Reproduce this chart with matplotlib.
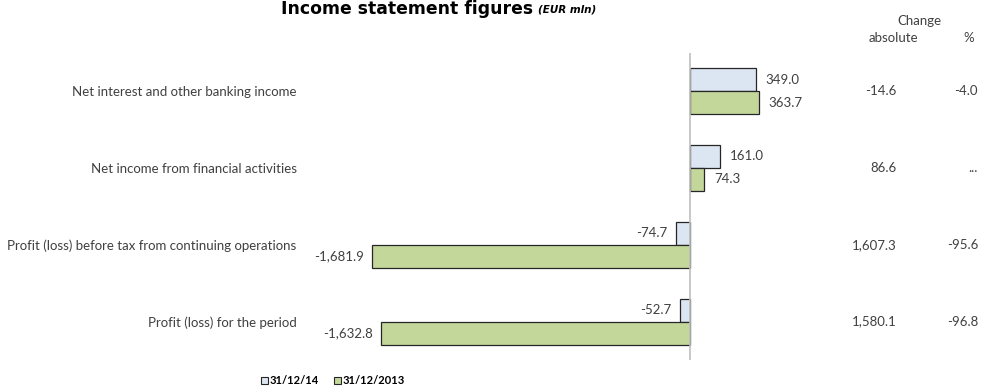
import numpy as np
import matplotlib
matplotlib.use("Agg")
import matplotlib.pyplot as plt
import matplotlib.transforms as mtransforms
from matplotlib.patches import Patch

# dados da tabela (EUR mln)
categorias = [
    "Net interest and other banking income",
    "Net income from financial activities",
    "Profit (loss) before tax from continuing operations",
    "Profit (loss) for the period",
]
valores_2014 = [349.0, 161.0, -74.7, -52.7]
valores_2013 = [363.7, 74.3, -1681.9, -1632.8]
variacao_abs = ["-14.6", "86.6", "1,607.3", "1,580.1"]
variacao_pct = ["-4.0", "...", "-95.6", "-96.8"]
legenda = ["31/12/14", "31/12/2013"]

cor_texto = "#404040"
cor_2014 = "#dce6f2"
cor_2013 = "#c4d79b"
fs = 9.5

plt.rcParams["font.family"] = ["Lato", "DejaVu Sans"]

fig = plt.figure(figsize=(9.83, 3.87), dpi=100)
ax = fig.add_axes([305 / 983, 27 / 387, 525 / 983, 307.3 / 387])

y = np.arange(len(categorias))
h = 0.3
ax.barh(y - h / 2, valores_2014, height=h, color=cor_2014, edgecolor="#262626", linewidth=0.9)
ax.barh(y + h / 2, valores_2013, height=h, color=cor_2013, edgecolor="#262626", linewidth=0.9)

escala = 0.189  # pixels por EUR mln
ax.set_xlim(-385 / escala, 140 / escala)
ax.set_ylim(len(categorias) - 0.5, -0.5)

# rótulos dos valores nas barras
def rotulo(v, yy):
    txt = f"{v:,.1f}"
    if v >= 0:
        ax.annotate(txt, (v, yy), xytext=(7, 0), textcoords="offset points",
                    ha="left", va="center", fontsize=fs, color=cor_texto)
    else:
        ax.annotate(txt, (v, yy), xytext=(-6, 0), textcoords="offset points",
                    ha="right", va="center", fontsize=fs, color=cor_texto)

for i in range(len(categorias)):
    rotulo(valores_2014[i], y[i] - h / 2)
    rotulo(valores_2013[i], y[i] + h / 2)

# eixo vertical no zero
ax.axvline(0, color="#bfbfbf", linewidth=1.2)
for s in ax.spines.values():
    s.set_visible(False)
ax.set_xticks([])
ax.set_yticks(y)
ax.set_yticklabels(categorias, fontsize=fs, color=cor_texto)
ax.tick_params(axis="y", length=0, pad=6)

# colunas de variação à direita
trans = mtransforms.blended_transform_factory(fig.transFigure, ax.transData)
for i in range(len(categorias)):
    ax.text(897 / 983, y[i], variacao_abs[i], transform=trans, ha="right", va="center",
            fontsize=fs, color=cor_texto)
    ax.text(978 / 983, y[i], variacao_pct[i], transform=trans, ha="right", va="center",
            fontsize=fs, color=cor_texto)

fig.text(919 / 983, 1 - 21 / 387, "Change", ha="center", va="center", fontsize=fs, color=cor_texto)
fig.text(893 / 983, 1 - 38 / 387, "absolute", ha="center", va="center", fontsize=fs, color=cor_texto)
fig.text(969 / 983, 1 - 38 / 387, "%", ha="center", va="center", fontsize=fs, color=cor_texto)

# título
fig.text(533 / 983, 1 - 9 / 387, "Income statement figures", ha="right", va="center",
         fontsize=12.4, fontweight="bold", color="black", family="DejaVu Sans")
fig.text(538 / 983, 1 - 10 / 387, "(EUR mln)", ha="left", va="center",
         fontsize=7.5, fontweight="bold", style="italic", color="black", family="DejaVu Sans")

# legenda
handles = [Patch(facecolor=cor_2014, edgecolor="#262626", linewidth=0.8),
           Patch(facecolor=cor_2013, edgecolor="#262626", linewidth=0.8)]
fig.legend(handles, legenda, loc="center left", bbox_to_anchor=(261 / 983, 1 - 381 / 387),
           ncol=2, frameon=False, handlelength=0.6, handleheight=0.6,
           handletextpad=0.15, columnspacing=1.4, borderpad=0, borderaxespad=0,
           prop={"weight": "bold", "size": 8})

fig.savefig("out.png", dpi=100)
